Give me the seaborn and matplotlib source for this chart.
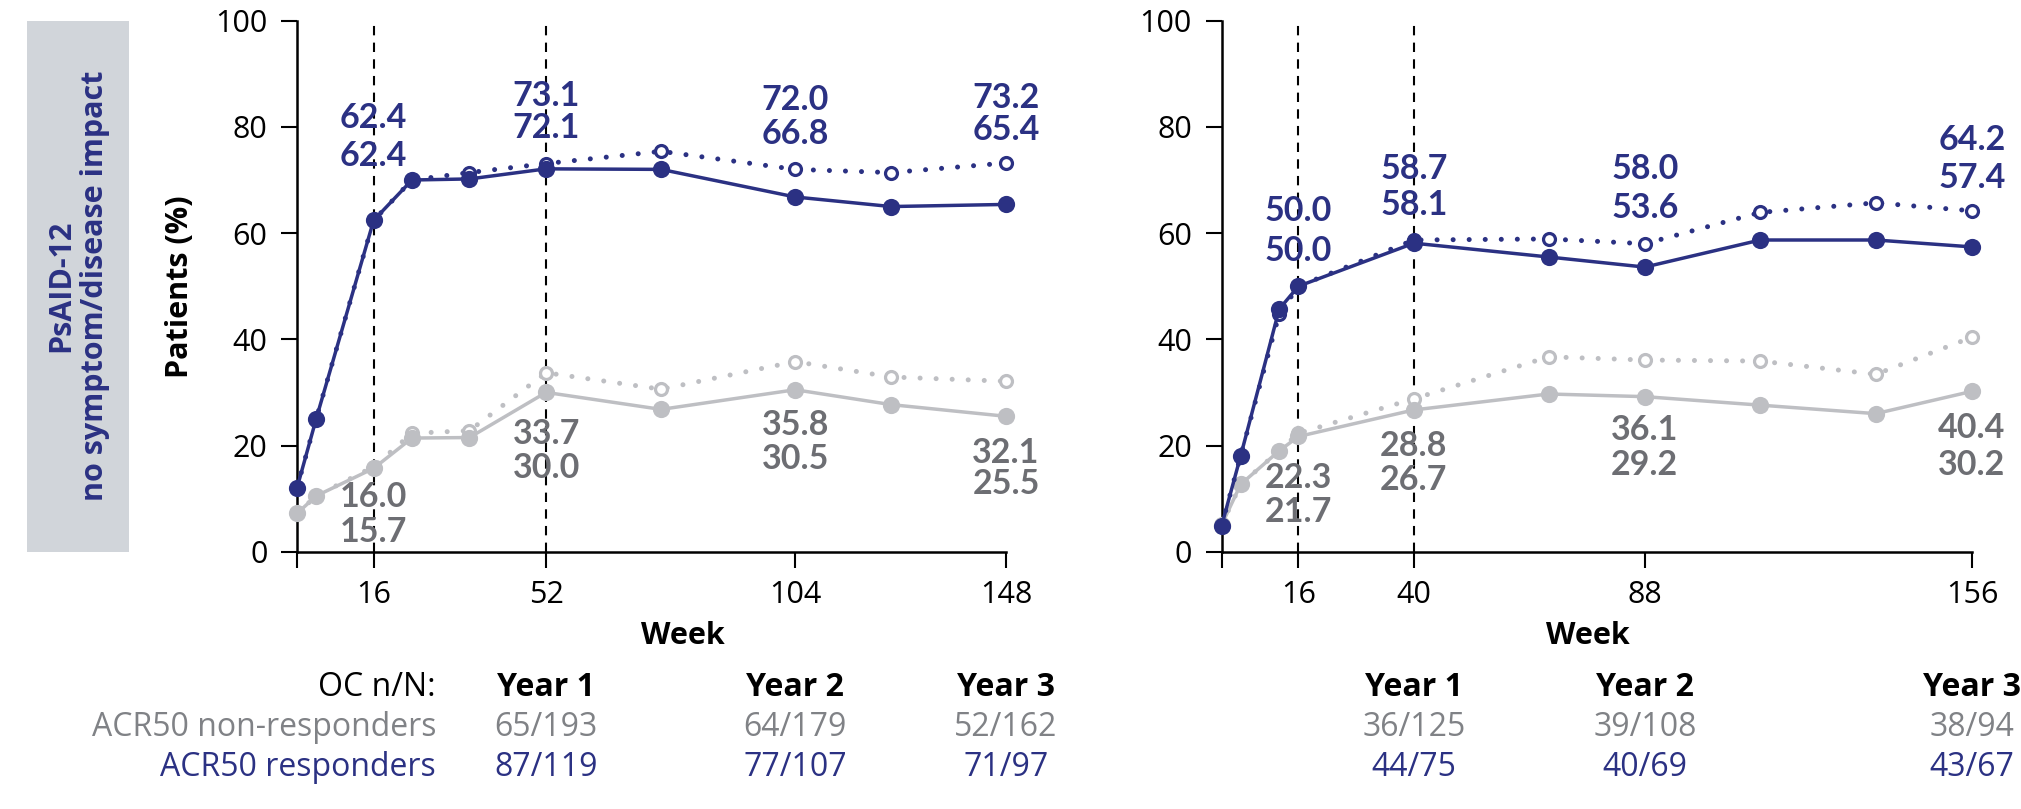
import matplotlib
matplotlib.use("Agg")
import matplotlib.pyplot as plt
import matplotlib.transforms as mtransforms
from matplotlib.patches import Rectangle
import numpy as np
import pandas as pd
import seaborn as sns

# ---------------- data ----------------
# Left panel: weeks and % patients reaching PsAID-12 no symptom/disease impact
left_weeks = [0, 4, 16, 24, 36, 52, 76, 104, 124, 148]
left_resp_oc = [12.0, 25.0, 62.4, 70.0, 71.4, 73.1, 75.4, 72.0, 71.4, 73.2]
left_resp_nri = [12.0, 25.0, 62.4, 70.0, 70.2, 72.1, 72.0, 66.8, 65.0, 65.4]
left_nonresp_oc = [7.2, 10.5, 16.0, 22.3, 22.8, 33.7, 30.6, 35.8, 32.9, 32.1]
left_nonresp_nri = [7.2, 10.5, 15.7, 21.4, 21.5, 30.0, 26.8, 30.5, 27.7, 25.5]
left_xticks = [0, 16, 52, 104, 148]
left_vlines = [16, 52]
left_labelled_weeks = [16, 52, 104, 148]

# Right panel
right_weeks = [0, 4, 12, 16, 40, 68, 88, 112, 136, 156]
right_resp_oc = [4.8, 18.1, 44.8, 50.0, 58.7, 58.9, 58.0, 63.9, 65.7, 64.2]
right_resp_nri = [4.8, 18.1, 45.7, 50.0, 58.1, 55.5, 53.6, 58.7, 58.7, 57.4]
right_nonresp_oc = [5.0, 12.7, 19.0, 22.3, 28.8, 36.7, 36.1, 35.9, 33.4, 40.4]
right_nonresp_nri = [5.0, 12.7, 19.0, 21.7, 26.7, 29.7, 29.2, 27.6, 26.0, 30.2]
right_xticks = [0, 16, 40, 88, 156]
right_vlines = [16, 40]
right_labelled_weeks = [16, 40, 88, 156]

# OC n/N table
year_labels = ["Year 1", "Year 2", "Year 3"]
left_year_weeks = [52, 104, 148]
left_nonresp_nN = ["65/193", "64/179", "52/162"]
left_resp_nN = ["87/119", "77/107", "71/97"]
right_year_weeks = [40, 88, 156]
right_nonresp_nN = ["36/125", "39/108", "38/94"]
right_resp_nN = ["44/75", "40/69", "43/67"]

# ---------------- style ----------------
NAVY = "#2B3183"
GRAY_LINE = "#BEBFC3"
GRAY_TEXT = "#6D6E73"
GRAY_ROW = "#808286"
BOX = "#D1D5DA"
NUM_FONT = ["Lato", "DejaVu Sans"]

sns.set_theme(style="white")
plt.rcParams["font.family"] = ["Open Sans", "DejaVu Sans"]
plt.rcParams["axes.linewidth"] = 1.8

W, H = 2021, 809
fig = plt.figure(figsize=(W / 100, H / 100), dpi=100)


def fx(px):
    return px / W


def fy(py):
    return 1 - py / H


ax_bottom = fy(551.7)
ax_height = (551.7 - 20.7) / H
axL = fig.add_axes([fx(297), ax_bottom, 709 / W, ax_height])
axR = fig.add_axes([fx(1221.5), ax_bottom, 750.5 / W, ax_height])

# label positions (data units) for upper / lower value labels
left_label_y = {
    "resp": [(81.6, 74.6), (85.8, 79.7), (85.1, 78.6), (85.4, 79.5)],
    "nonresp": [(10.3, 3.8), (22.2, 15.7), (23.9, 17.5), (18.5, 12.8)],
}
right_label_y = {
    "resp": [(64.2, 56.7), (72.0, 65.3), (72.0, 64.7), (77.5, 70.4)],
    "nonresp": [(13.9, 7.4), (20.0, 13.5), (22.9, 16.4), (23.3, 16.3)],
}

DOT = (0, (0.01, 3.2))
TICK_SIZE = 22
TABLE_SIZE = 23
VAL_SIZE = 24.5


def draw_panel(ax, weeks, r_oc, r_nri, n_oc, n_nri, xticks, vlines,
               lab_weeks, lab_y, xmax):
    df = pd.DataFrame({"week": weeks, "r_oc": r_oc, "r_nri": r_nri,
                       "n_oc": n_oc, "n_nri": n_nri})
    for v in vlines:
        ax.plot([v, v], [0, 100], color="black", lw=1.5,
                linestyle=(0, (4.5, 3.5)), zorder=1, clip_on=False)

    common_open = dict(marker="o", markersize=8.6, markerfacecolor="white",
                       markeredgewidth=2.3, linewidth=3.6, linestyle=DOT,
                       dash_capstyle="round", clip_on=False)
    common_fill = dict(marker="o", markersize=12.4, markeredgewidth=0,
                       linewidth=2.5, clip_on=False)
    sns.lineplot(data=df, x="week", y="n_oc", ax=ax, color=GRAY_LINE,
                 markeredgecolor=GRAY_LINE, zorder=2, **common_open)
    sns.lineplot(data=df, x="week", y="n_nri", ax=ax, color=GRAY_LINE,
                 markerfacecolor=GRAY_LINE, markeredgecolor=GRAY_LINE,
                 zorder=3, **common_fill)
    sns.lineplot(data=df, x="week", y="r_oc", ax=ax, color=NAVY,
                 markeredgecolor=NAVY, zorder=4, **common_open)
    sns.lineplot(data=df, x="week", y="r_nri", ax=ax, color=NAVY,
                 markerfacecolor=NAVY, markeredgecolor=NAVY,
                 zorder=5, **common_fill)

    # value labels: upper = observed case, lower = imputed
    def put(w, y, val, col):
        ax.text(w, y, f"{val:.1f}", ha="center", va="center", color=col,
                fontsize=VAL_SIZE, fontweight="bold", family=NUM_FONT,
                zorder=6, clip_on=False)

    for i, w in enumerate(lab_weeks):
        k = weeks.index(w)
        u, l = lab_y["resp"][i]
        put(w, u, r_oc[k], NAVY)
        put(w, l, r_nri[k], NAVY)
        u, l = lab_y["nonresp"][i]
        put(w, u, n_oc[k], GRAY_TEXT)
        put(w, l, n_nri[k], GRAY_TEXT)

    ax.set_xlim(0, xmax)
    ax.set_ylim(0, 100)
    ax.set_xticks(xticks)
    ax.set_xticklabels([""] + [str(t) for t in xticks[1:]])
    ax.set_yticks(range(0, 101, 20))
    ax.set_yticklabels([str(t) for t in range(0, 101, 20)])
    for s in ("top", "right"):
        ax.spines[s].set_visible(False)
    for s in ("left", "bottom"):
        ax.spines[s].set_color("black")
        ax.spines[s].set_linewidth(1.8)
    ax.tick_params(axis="both", direction="out", length=11.3, width=1.5,
                   color="black", labelsize=TICK_SIZE, labelcolor="black",
                   bottom=True, left=True)
    ax.tick_params(axis="y", pad=10)
    ax.tick_params(axis="x", pad=9)
    ax.set_facecolor("none")
    ax.set_ylabel("")
    ax.set_xlabel("Week", fontsize=22, fontweight="bold", color="black")


draw_panel(axL, left_weeks, left_resp_oc, left_resp_nri, left_nonresp_oc,
           left_nonresp_nri, left_xticks, left_vlines, left_labelled_weeks,
           left_label_y, 148)
draw_panel(axR, right_weeks, right_resp_oc, right_resp_nri, right_nonresp_oc,
           right_nonresp_nri, right_xticks, right_vlines, right_labelled_weeks,
           right_label_y, 156)

axL.xaxis.set_label_coords(0.544, -0.158)
axR.xaxis.set_label_coords(0.488, -0.158)
for ax in (axL, axR):
    ax.xaxis.label.set_verticalalignment("center")
axL.set_ylabel("Patients (%)", fontsize=22, fontweight="bold", color="black")
axL.yaxis.set_label_coords(-0.165, 0.5)
axL.yaxis.label.set_verticalalignment("center")

# side banner
fig.patches.append(Rectangle((fx(27), fy(551.7)), (129 - 27) / W,
                             (551.7 - 20.7) / H, transform=fig.transFigure,
                             facecolor=BOX, edgecolor="none", zorder=0))
fig.text(fx(78), fy(286), "PsAID-12\nno symptom/disease impact",
         rotation=90, ha="center", va="center", multialignment="center",
         color=NAVY, fontsize=22, fontweight="bold", linespacing=1.15)

# OC n/N table
row_y = [fy(687), fy(727), fy(768)]
fig.text(fx(436), row_y[0], "OC n/N:", ha="right", va="center",
         fontsize=TABLE_SIZE, color="black")
fig.text(fx(436), row_y[1], "ACR50 non-responders", ha="right", va="center",
         fontsize=TABLE_SIZE, color=GRAY_ROW)
fig.text(fx(436), row_y[2], "ACR50 responders", ha="right", va="center",
         fontsize=TABLE_SIZE, color=NAVY)

for ax, yweeks, nonresp, resp in ((axL, left_year_weeks, left_nonresp_nN, left_resp_nN),
                                  (axR, right_year_weeks, right_nonresp_nN, right_resp_nN)):
    tr = mtransforms.blended_transform_factory(ax.transData, fig.transFigure)
    for w, yl, a, b in zip(yweeks, year_labels, nonresp, resp):
        ax.text(w, row_y[0], yl, transform=tr, ha="center", va="center",
                fontsize=TABLE_SIZE, fontweight="bold", color="black",
                clip_on=False)
        ax.text(w, row_y[1], a, transform=tr, ha="center", va="center",
                fontsize=TABLE_SIZE, color=GRAY_ROW, clip_on=False)
        ax.text(w, row_y[2], b, transform=tr, ha="center", va="center",
                fontsize=TABLE_SIZE, color=NAVY, clip_on=False)

fig.savefig("out.png", dpi=100, facecolor="white")
